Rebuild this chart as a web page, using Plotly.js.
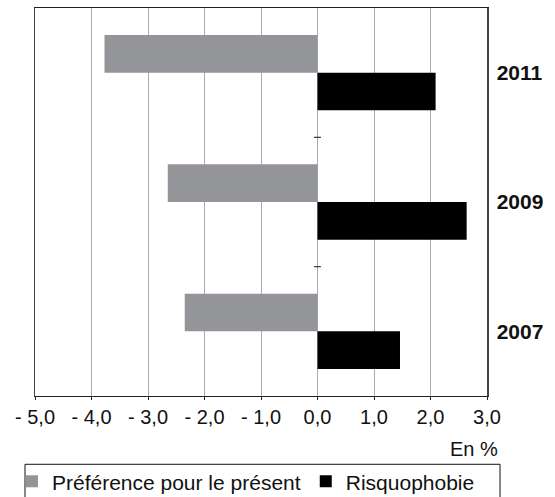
<!DOCTYPE html>
<html>
<head>
<meta charset="utf-8">
<script src="https://cdn.plot.ly/plotly-3.0.1.min.js"></script>
<style>html,body{margin:0;padding:0;background:#fff;}#chart{width:555px;height:497px;}</style>
</head>
<body>
<div id="chart"></div>
<script>
const years = ['2007', '2009', '2011'];
const preference = [-2.35, -2.65, -3.77];
const risquophobie = [1.46, 2.64, 2.09];
const seriesNames = ['Préférence pour le présent', 'Risquophobie'];
const tickValues = [-5, -4, -3, -2, -1, 0, 1, 2, 3];
const tickLabels = ['- 5,0', '- 4,0', '- 3,0', '- 2,0', '- 1,0', '0,0', '1,0', '2,0', '3,0'];
const unitLabel = 'En %';

const font = 'Liberation Sans, Arial, Helvetica, sans-serif';

const traces = [
  {type: 'bar', orientation: 'h', name: seriesNames[1], y: years, x: risquophobie,
   marker: {color: '#000000'}, hoverinfo: 'x'},
  {type: 'bar', orientation: 'h', name: seriesNames[0], y: years, x: preference,
   marker: {color: '#939598'}, hoverinfo: 'x'}
];

const boundaryTicks = [0.5, 1.5].map(v => ({
  type: 'line', xref: 'x', yref: 'y', x0: -0.06, x1: 0.06, y0: v, y1: v,
  line: {color: '#333', width: 1.2}
}));

const layout = {
  width: 555, height: 497,
  margin: {l: 35, r: 68, t: 8, b: 101, autoexpand: false},
  paper_bgcolor: '#fff', plot_bgcolor: '#fff',
  font: {family: font, color: '#111', size: 20},
  barmode: 'group', bargap: 0.417, bargroupgap: 0,
  showlegend: true,
  legend: {
    orientation: 'h', traceorder: 'reversed',
    x: -0.051, xanchor: 'left', y: -0.168, yanchor: 'top',
    font: {family: font, size: 21, color: '#111'},
    bgcolor: 'rgba(0,0,0,0)', borderwidth: 0,
    itemclick: false
  },
  xaxis: {
    range: [-5, 3], tickvals: tickValues, ticktext: tickLabels,
    showgrid: true, gridcolor: '#aaaaaa', gridwidth: 1,
    zeroline: true, zerolinecolor: '#aaaaaa', zerolinewidth: 1,
    showline: true, linecolor: '#222', linewidth: 1.3, mirror: true,
    ticks: 'outside', ticklen: 3, tickcolor: '#222',
    tickfont: {family: font, size: 20, color: '#111'},
    fixedrange: true
  },
  yaxis: {
    type: 'category', categoryarray: years, side: 'right',
    range: [-0.5, 2.5],
    showgrid: false, zeroline: false,
    showline: true, linecolor: '#444', linewidth: 1.5, mirror: true,
    ticks: '', ticklabelstandoff: 4,
    tickfont: {family: font, size: 21, color: '#111', weight: 'bold'},
    fixedrange: true
  },
  shapes: boundaryTicks.concat([{
    type: 'rect', xref: 'paper', yref: 'paper',
    x0: -0.0221, x1: 1.0288, y0: -0.30, y1: -0.176,
    line: {color: '#111', width: 1}, fillcolor: 'rgba(0,0,0,0)'
  }]),
  annotations: [{
    text: unitLabel, xref: 'paper', yref: 'paper', x: 1.029, y: -0.104,
    xanchor: 'right', yanchor: 'top', showarrow: false,
    font: {family: font, size: 20, color: '#111'}
  }]
};

Plotly.newPlot('chart', traces, layout, {displayModeBar: false, staticPlot: true});
</script>
</body>
</html>
